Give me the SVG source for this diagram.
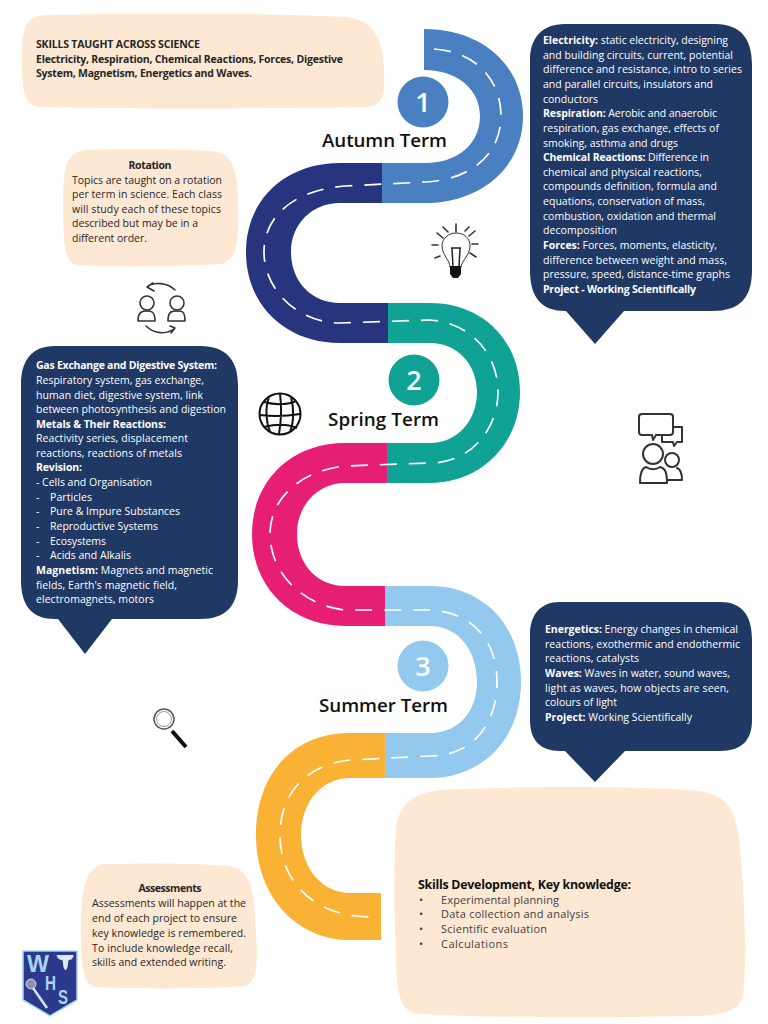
<svg xmlns="http://www.w3.org/2000/svg" width="768" height="1024" viewBox="0 0 768 1024">
<style>
text{font-family:"Open Sans","Noto Sans","Liberation Sans",sans-serif;font-size:10.5px;fill:#262626}
.w text{fill:#fff}
.b{font-weight:700}
.dash{fill:none;stroke:#fff;stroke-width:1.700;stroke-dasharray:17 12}
.cream{fill:#fde9d3}
.navybox{fill:#1f3864}
.term{font-size:18.800px;font-weight:600;fill:#111}
.num{font-size:27px;font-weight:600;fill:#fff;text-anchor:middle}
.ic{fill:none;stroke:#333;stroke-width:1.600;stroke-linecap:round;stroke-linejoin:round}
.ct{text-anchor:middle}
.sk{font-size:11px;fill:#404040}
.lg{font-family:"Liberation Sans",sans-serif;font-weight:700;fill:#a8d4f5}
</style>
<rect width="768" height="1024" fill="#fff"/>
<g id="road">
<path fill="#4a7fc1" d="M424 29C485 29 523 68 523 116C523 168 480 203 425 203L382 203L382 163L425 163C460 163 480 142 480 116C480 90 458 70 424 70Z"/>
<path fill="#27357f" d="M382 163L340 163C285 163 246 200 246 252C246 305 285 343 340 343L388 343L388 303L340 303C312 303 291 282 291 252C291 224 312 203 340 203L382 203Z"/>
<path fill="#10a294" d="M388 303L430 303C482 303 520 340 520 392C520 445 480 483 430 483L387 483L387 443L430 443C458 443 477 420 477 392C477 365 458 343 430 343L388 343Z"/>
<path fill="#e71f74" d="M387 443L345 443C290 443 252 482 252 534C252 588 292 626 345 626L385 626L385 586L345 586C318 586 297 565 297 534C297 505 318 483 345 483L387 483Z"/>
<path fill="#93c8ef" d="M385 586L430 586C483 586 521 625 521 682C521 738 483 778 430 778L385 778L385 733L430 733C458 733 477 712 477 682C477 650 458 626 430 626L385 626Z"/>
<path fill="#f9b233" d="M385 733L350 733C295 733 256 772 256 835C256 898 298 940 350 940L381 940L381 893L350 893C322 893 301 868 301 835C301 802 322 778 350 778L385 778Z"/>
<path class="dash" d="M434 49C478 52 501 82 501 116C501 155 470 180 425 182L345 186C295 190 264 215 264 252C264 290 298 323 340 323L430 320C472 323 498 355 498 392C498 430 470 463 430 463L345 466C305 470 270 495 270 534C270 575 305 606 345 610L430 610C472 612 497 640 497 682C497 725 472 756 430 756L350 760C310 764 280 790 280 835C280 880 312 917 372 917"/>
</g>
<g id="term1"><circle cx="423" cy="102" r="25.500" fill="#4a7fc1"/><text class="num" x="423" y="112">1</text><text class="term" x="322" y="147" textLength="125">Autumn Term</text></g>
<g id="term2"><circle cx="414" cy="380" r="25.500" fill="#10a294"/><text class="num" x="414" y="390">2</text><text class="term" x="328" y="426" textLength="111">Spring Term</text></g>
<g id="term3"><circle cx="423" cy="666" r="25.500" fill="#93c8ef"/><text class="num" x="423" y="676">3</text><text class="term" x="319" y="712" textLength="129">Summer Term</text></g>
<g id="skills-taught"><path class="cream" d="M45 15C150 13 270 13 345 17C375 20 383 40 384 70C385 95 384 106 365 107C250 109 120 109 40 107C25 105 22 95 22 60C22 30 24 17 45 15Z"/>
<text class="b" x="36" y="48" textLength="164">SKILLS TAUGHT ACROSS SCIENCE</text>
<text class="b" x="36" y="63" textLength="307">Electricity, Respiration, Chemical Reactions, Forces, Digestive</text>
<text class="b" x="36" y="77" textLength="216">System, Magnetism, Energetics and Waves.</text></g>
<g id="rotation"><path class="cream" d="M85 150C120 149 180 149 212 151C232 153 237 168 238 200C239 240 238 258 222 264C170 267 110 267 76 265C65 262 63 245 63 205C63 170 65 153 85 150Z"/>
<text class="b ct" x="150" y="169" textLength="43">Rotation</text>
<text x="72" y="184" textLength="150">Topics are taught on a rotation</text>
<text x="72" y="198" textLength="150">per term in science. Each class</text>
<text x="72" y="213" textLength="149">will study each of these topics</text>
<text x="72" y="227" textLength="126">described but may be in a</text>
<text x="72" y="242" textLength="75">different order.</text></g>
<g id="autumn-topics" class="w"><path class="navybox" d="M565 24L715 24C742 24 752 40 752 65L752 270C752 298 740 311 712 311L624 311L595 344L566 311L565 311C542 311 530 298 530 270L530 60C530 38 542 24 565 24Z"/>
<text x="543" y="44" textLength="185"><tspan class="b">Electricity:</tspan> static electricity, designing</text>
<text x="543" y="59" textLength="190">and building circuits, current, potential</text>
<text x="543" y="73" textLength="199">difference and resistance, intro to series</text>
<text x="543" y="88" textLength="170">and parallel circuits, insulators and</text>
<text x="543" y="103" textLength="55">conductors</text>
<text x="543" y="117" textLength="174"><tspan class="b">Respiration:</tspan> Aerobic and anaerobic</text>
<text x="543" y="132" textLength="176">respiration, gas exchange, effects of</text>
<text x="543" y="147" textLength="135">smoking, asthma and drugs</text>
<text x="543" y="161" textLength="166"><tspan class="b">Chemical Reactions:</tspan> Difference in</text>
<text x="543" y="176" textLength="159">chemical and physical reactions,</text>
<text x="543" y="190" textLength="174">compounds definition, formula and</text>
<text x="543" y="205" textLength="162">equations, conservation of mass,</text>
<text x="543" y="220" textLength="173">combustion, oxidation and thermal</text>
<text x="543" y="234" textLength="74">decomposition</text>
<text x="543" y="249" textLength="174"><tspan class="b">Forces:</tspan> Forces, moments, elasticity,</text>
<text x="543" y="264" textLength="184">difference between weight and mass,</text>
<text x="543" y="278" textLength="187">pressure, speed, distance-time graphs</text>
<text class="b" x="543" y="293" textLength="153">Project - Working Scientifically</text></g>
<g id="spring-topics" class="w"><path class="navybox" d="M55 346L200 346C226 346 238 360 238 385L238 580C238 606 226 619 200 619L112 619L85 654L58 619L55 619C32 619 21 606 21 580L21 385C21 360 32 346 55 346Z"/>
<text class="b" x="36" y="369" textLength="181">Gas Exchange and Digestive System:</text>
<text x="36" y="384" textLength="168">Respiratory system, gas exchange,</text>
<text x="36" y="399" textLength="167">human diet, digestive system, link</text>
<text x="36" y="413" textLength="190">between photosynthesis and digestion</text>
<text class="b" x="36" y="428" textLength="130">Metals &amp; Their Reactions:</text>
<text x="36" y="442" textLength="152">Reactivity series, displacement</text>
<text x="36" y="457" textLength="146">reactions, reactions of metals</text>
<text class="b" x="36" y="471" textLength="46">Revision:</text>
<text x="36" y="486" textLength="116">- Cells and Organisation</text>
<text x="36" y="501">-</text><text x="50" y="501" textLength="42">Particles</text>
<text x="36" y="515">-</text><text x="50" y="515" textLength="130">Pure &amp; Impure Substances</text>
<text x="36" y="530">-</text><text x="50" y="530" textLength="108">Reproductive Systems</text>
<text x="36" y="545">-</text><text x="50" y="545" textLength="56">Ecosystems</text>
<text x="36" y="559">-</text><text x="50" y="559" textLength="81">Acids and Alkalis</text>
<text x="36" y="574" textLength="177"><tspan class="b">Magnetism:</tspan> Magnets and magnetic</text>
<text x="36" y="589" textLength="141">fields, Earth's magnetic field,</text>
<text x="36" y="603" textLength="118">electromagnets, motors</text></g>
<g id="summer-topics" class="w"><path class="navybox" d="M560 602L720 602C742 602 752 615 752 640L752 720C752 740 742 751 720 751L625 751L595 782L565 751L560 751C540 751 530 740 530 720L530 635C530 615 540 602 560 602Z"/>
<text x="545" y="633" textLength="193"><tspan class="b">Energetics:</tspan> Energy changes in chemical</text>
<text x="545" y="648" textLength="195">reactions, exothermic and endothermic</text>
<text x="545" y="662" textLength="94">reactions, catalysts</text>
<text x="545" y="677" textLength="185"><tspan class="b">Waves:</tspan> Waves in water, sound waves,</text>
<text x="545" y="692" textLength="184">light as waves, how objects are seen,</text>
<text x="545" y="706" textLength="72">colours of light</text>
<text x="545" y="721" textLength="147"><tspan class="b">Project:</tspan> Working Scientifically</text></g>
<g id="skills-dev"><path class="cream" d="M440 790C520 786 640 786 700 791C732 796 738 815 741 860C746 920 746 970 743 995C740 1012 720 1016 690 1016C600 1018 490 1018 420 1014C402 1012 397 1000 396 960C394 910 394 860 396 830C398 805 412 793 440 790Z"/>
<text class="b" x="418" y="889" textLength="213" style="font-size:12.400px;fill:#111">Skills Development, Key knowledge:</text>
<text class="sk" x="419" y="904">•</text><text class="sk" x="441" y="904" textLength="118">Experimental planning</text>
<text class="sk" x="419" y="918">•</text><text class="sk" x="441" y="918" textLength="148">Data collection and analysis</text>
<text class="sk" x="419" y="933">•</text><text class="sk" x="441" y="933" textLength="106">Scientific evaluation</text>
<text class="sk" x="419" y="948">•</text><text class="sk" x="441" y="948" textLength="67">Calculations</text></g>
<g id="assessments"><path class="cream" d="M105 864C150 863 200 863 228 866C248 869 254 885 255 920C258 960 259 978 246 986C210 989 130 989 95 987C84 984 81 970 81 930C81 895 83 867 105 864Z"/>
<text class="b ct" x="170" y="892" textLength="63">Assessments</text>
<text x="92" y="907" textLength="154">Assessments will happen at the</text>
<text x="92" y="922" textLength="145">end of each project to ensure</text>
<text x="92" y="937" textLength="154">key knowledge is remembered.</text>
<text x="92" y="952" textLength="141">To include knowledge recall,</text>
<text x="92" y="966" textLength="134">skills and extended writing.</text></g>
<g id="icon-rotation" class="ic"><circle cx="147" cy="303" r="7"/><circle cx="177" cy="303" r="7"/><path d="M138 321C138 311 143 311 147 311C151 311 155 311 155 321ZM168 321C168 311 172 311 177 311C182 311 185 311 185 321Z"/><path d="M147 287C153 282 167 282 175 290M147 287L153 283M147 287L154 291M146 326C154 334 167 335 175 328M175 328L170 326M175 328L171 333"/></g>
<g id="icon-globe" fill="none" stroke="#111" stroke-width="2"><circle cx="280" cy="414" r="20.500"/><path d="M264 402C275 405 288 405 296 401M260 415C275 417 288 416 300 414M264 427C275 424 288 424 297 428M269 397C265 408 266 422 270 432M280 394C282 408 281 422 279 434M291 397C294 408 294 422 290 432"/></g>
<g id="icon-bulb"><path class="ic" style="stroke-width:1" d="M450 267C450 260 442 255 442 246C442 238 449 233 456 233C464 233 470 238 470 246C470 255 462 260 461 267"/><path class="ic" d="M456 224V232M443 227L448 232M437 233L443 238M432 245H438M435 258L440 256M465 231L469 227M469 236L475 231M472 244H478M470 253L476 257"/><path fill="none" stroke="#222" stroke-width="1.500" d="M451 248H461M452 248L453 267M460 248L459 267"/><path fill="#111" d="M450 266H461V274L458 278H453L450 274Z"/></g>
<g id="icon-people" class="ic" style="stroke-width:2"><path d="M642 414H670C672 414 673 415 673 417V432C673 434 672 435 670 435H656L653 440L652 435H642C640 435 639 434 639 432V417C639 415 640 414 642 414Z"/><path d="M673 427H682V442H677L674 446L673 442H662V436"/><circle cx="653" cy="454" r="10"/><circle cx="672" cy="460" r="7"/><path d="M640 483C640 472 642 468 646 467C650 470 656 470 660 467C665 468 667 472 667 483ZM667 480H682C682 472 680 469 677 468"/></g>
<g id="icon-magnifier"><circle cx="164" cy="719" r="10" fill="none" stroke="#555" stroke-width="1.500"/><circle cx="164" cy="719" r="7.500" fill="none" stroke="#999"/><path d="M172 731L186 747" stroke="#111" stroke-width="4" fill="none"/></g>
<g id="logo"><path fill="#2b3a8a" stroke="#a8d4f5" stroke-width="1.500" d="M23 951H77V1000L50 1016L23 1000Z"/>
<text class="lg" x="27" y="972" style="font-size:23px" textLength="22" lengthAdjust="spacingAndGlyphs">W</text>
<text class="lg" x="45" y="990" style="font-size:20px" textLength="11" lengthAdjust="spacingAndGlyphs">H</text>
<text class="lg" x="58" y="1004" style="font-size:21px" textLength="10" lengthAdjust="spacingAndGlyphs">S</text>
<circle cx="31" cy="984" r="5" fill="#8f8fb8" stroke="#cbd5ee"/><path d="M33 988L47 1008" stroke="#cfe6f8" stroke-width="2.500"/><path d="M57 955C58 960 61 959 63 960H68C70 959 73 960 73 955M63 960L64 967L65.500 970L67 967L68 960Z" fill="#dfe9f5" stroke="#dfe9f5"/></g>
</svg>
